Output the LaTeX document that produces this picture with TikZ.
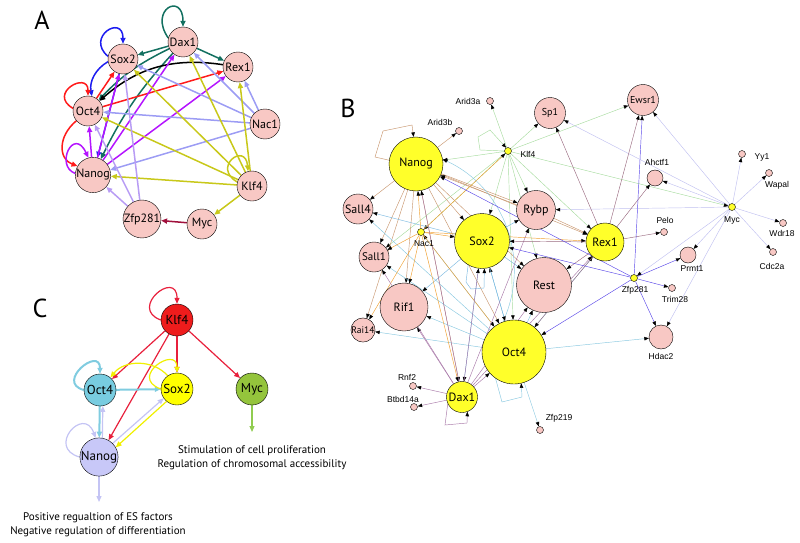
\documentclass[tikz,border=0pt]{standalone}
\usepackage{fontspec}
\setmainfont{PT Sans}
\newfontfamily\arialfont{Liberation Sans}
\usetikzlibrary{arrows.meta,backgrounds}

\definecolor{npink}{HTML}{F8C8C4}
\definecolor{byellow}{HTML}{FFFF2A}
% panel A edge colours
\definecolor{adax}{HTML}{137060}
\definecolor{asox}{HTML}{1C1CF0}
\definecolor{aoct}{HTML}{FF1A1A}
\definecolor{anan}{HTML}{B414FF}
\definecolor{anac}{HTML}{9C9CF4}
\definecolor{aklf}{HTML}{C8C81A}
\definecolor{azfp}{HTML}{B89CF4}
\definecolor{amyc}{HTML}{A0103C}
% panel B edge colours
\definecolor{bnan}{HTML}{C8966E}
\definecolor{bklf}{HTML}{A8DCA0}
\definecolor{bnac}{HTML}{F0A030}
\definecolor{boct}{HTML}{88C8E0}
\definecolor{bsox}{HTML}{7AB8E0}
\definecolor{bdax}{HTML}{A878A8}
\definecolor{brex}{HTML}{9A6A80}
\definecolor{bzfp}{HTML}{5A48E8}
\definecolor{bmyc}{HTML}{C0C0F0}
% panel C colours
\definecolor{cred}{HTML}{E8203C}
\definecolor{cklf}{HTML}{EE1C1C}
\definecolor{cblue}{HTML}{80CCE0}
\definecolor{coct}{HTML}{78CCE0}
\definecolor{cyel}{HTML}{F0F000}
\definecolor{csox}{HTML}{FFFF00}
\definecolor{clav}{HTML}{C4C4F4}
\definecolor{cnan}{HTML}{C8C8F8}
\definecolor{cgrn}{HTML}{90CC50}
\definecolor{cmyc}{HTML}{94C43C}

\tikzset{
  panel/.style={font=\fontsize{26}{26}\selectfont},
  anode/.style={circle,draw,fill=npink,minimum size=30pt,inner sep=0pt,font=\fontsize{12}{12}\selectfont},
  aedge/.style={line width=1.5pt,-{Triangle[length=6pt,width=5pt]}},
  cnode/.style={circle,draw,minimum size=32pt,inner sep=0pt,font=\fontsize{13}{13}\selectfont},
  cedge/.style={line width=1.2pt,-{Triangle[length=6pt,width=5pt]}},
  ctext/.style={align=center,font=\fontsize{11}{14}\selectfont},
  bbig/.style={circle,draw,fill=byellow,inner sep=0pt,font=\fontsize{12}{12}\selectfont},
  bpink/.style={circle,draw,fill=npink,inner sep=0pt,font=\fontsize{12}{12}\selectfont},
  bdot/.style={circle,draw,line width=0.4pt,inner sep=0pt,minimum size=7pt},
  blabel/.style={font=\arialfont\fontsize{8.5}{8.5}\selectfont,inner sep=0pt},
  bedge/.style={line width=0.45pt,-{Triangle[length=4.5pt,width=3.5pt,color=black,fill=black]}},
}

\begin{document}
\begin{tikzpicture}[x=1pt,y=1pt]
\useasboundingbox (0,0) rectangle (800,-543);

% ---------------- panel A
\node[panel] (A) at (42,-20) {A};
\node[anode] (aDax1) at (183,-42) {Dax1};
\node[anode] (aSox2) at (123,-59) {Sox2};
\node[anode] (aRex1) at (238,-67) {Rex1};
\node[anode] (aOct4) at (88,-111) {Oct4};
\node[anode] (aNac1) at (265,-124) {Nac1};
\node[anode] (aNanog) at (93,-175) {Nanog};
\node[anode] (aKlf4) at (252,-186) {Klf4};
\node[anode] (aZfp281) at (142,-219) {Zfp281};
\node[anode] (aMyc) at (202,-224) {Myc};

\begin{scope}[on background layer]
  \draw[aedge,adax] (aDax1.165) .. controls +(125:35) and +(90:35) .. (aDax1.north);
  \draw[aedge,adax] (aDax1) -- (aSox2);
  \draw[aedge,adax] (aDax1) -- (aRex1);
  \draw[aedge,adax] (aDax1) to[bend right=10] (aOct4);
  \draw[aedge,adax] (aDax1) to[bend right=8] (aNanog);
  \draw[aedge,asox] (aSox2.170) .. controls +(140:30) and +(90:30) .. (aSox2.north);
  \draw[aedge,asox] (aSox2.190) to[bend right=35] (aOct4.75);
  \draw[aedge,asox] (aSox2) -- (aNanog);
  \draw[aedge,aoct] (aOct4.170) .. controls +(150:30) and +(90:25) .. (aOct4.north);
  \draw[aedge,aoct] (aOct4) -- (aSox2);
  \draw[aedge,aoct] (aOct4) -- (aRex1);
  \draw[aedge,aoct] (aOct4.220) .. controls +(220:25) and +(160:20) .. (aNanog.150);
  \draw[aedge,black] (aRex1) to[bend right=25] (aOct4);
  \draw[aedge,anan] (aNanog.175) .. controls +(160:22) and +(115:35) .. (aNanog.105);
  \foreach \t in {aOct4,aSox2,aDax1,aRex1}
    \draw[aedge,anan] (aNanog) -- (\t);
  \foreach \t in {aSox2,aOct4,aNanog,aDax1,aRex1}
    \draw[aedge,anac] (aNac1) -- (\t);
  \draw[aedge,aklf] (aKlf4.165) .. controls +(150:30) and +(95:30) .. (aKlf4.105);
  \foreach \t in {aSox2,aDax1,aOct4,aNanog,aRex1,aMyc}
    \draw[aedge,aklf] (aKlf4) -- (\t);
  \foreach \t in {aNanog,aOct4,aSox2}
    \draw[aedge,azfp] (aZfp281) -- (\t);
  \draw[aedge,amyc] (aMyc) -- (aZfp281);
\end{scope}

% ---------------- panel C
\node[panel] (C) at (40,-308) {C};
\node[cnode,fill=cklf] (cKlf4) at (177,-320) {Klf4};
\node[cnode,fill=coct] (cOct4) at (100,-390) {Oct4};
\node[cnode,fill=csox] (cSox2) at (177,-389) {Sox2};
\node[cnode,fill=cmyc] (cMyc) at (252,-389) {Myc};
\node[cnode,fill=cnan] (cNanog) at (99,-457) {Nanog};
\coordinate (cMycOut) at (252,-432);
\coordinate (cNanogOut) at (99,-502);
\node[ctext] (cMycText) at (252,-458) {Stimulation of cell proliferation\\Regulation of chromosomal accessibility};
\node[ctext] (cNanogText) at (98,-525) {Positive regualtion of ES factors\\Negative regulation of differentiation};

\begin{scope}[on background layer]
  \draw[cedge,cred] (cKlf4.west) .. controls +(160:35) and +(90:35) .. (cKlf4.north);
  \foreach \t in {cOct4,cSox2,cMyc,cNanog}
    \draw[cedge,cred] (cKlf4) -- (\t);
  \draw[cedge,cblue,line width=2pt] (cOct4.west) .. controls +(165:30) and +(90:28) .. (cOct4.north);
  \draw[cedge,cblue,line width=2pt] (cOct4) -- (cSox2);
  \draw[cedge,cblue,line width=2pt] (cOct4) -- (cNanog);
  \draw[cedge,cyel] (cSox2.west) .. controls +(160:35) and +(90:28) .. (cSox2.north);
  \draw[cedge,cyel] (cSox2.125) to[bend right=50] (cOct4.50);
  \draw[cedge,cyel] (cSox2.230) -- (cNanog.30);
  \draw[cedge,clav] (cNanog.west) .. controls +(165:35) and +(110:35) .. (cNanog.100);
  \draw[cedge,clav] (cNanog.80) -- (cOct4.280);
  \draw[cedge,clav] (cNanog.45) -- (cSox2.215);
  \draw[cedge,cgrn] (cMyc) -- (cMycOut);
  \draw[cedge,clav] (cNanog) -- (cNanogOut);
\end{scope}

% ---------------- panel B
\node[panel] (B) at (348,-108) {B};
\node[bbig,minimum size=54pt] (bNanog) at (416,-164) {Nanog};
\node[bbig,minimum size=55pt] (bSox2) at (482,-241) {Sox2};
\node[bbig,minimum size=38pt] (bRex1) at (605,-242) {Rex1};
\node[bbig,minimum size=64pt] (bOct4) at (514,-352) {Oct4};
\node[bbig,minimum size=31pt] (bDax1) at (462,-397) {Dax1};
\node[bpink,minimum size=30pt] (bSall4) at (358,-209) {Sall4};
\node[bpink,minimum size=30pt,font=\fontsize{11}{11}\selectfont] (bSall1) at (374,-257) {Sall1};
\node[bpink,minimum size=39pt] (bRybp) at (536,-210) {Rybp};
\node[bpink,minimum size=55pt] (bRest) at (544,-285) {Rest};
\node[bpink,minimum size=48pt] (bRif1) at (404,-307) {Rif1};
\node[bpink,minimum size=24pt,font=\fontsize{9.5}{9.5}\selectfont] (bRai14) at (363,-330) {Rai14};
\node[bpink,minimum size=31pt,font=\fontsize{10}{10}\selectfont] (bSp1) at (550,-113) {Sp1};
\node[bpink,minimum size=31pt,font=\fontsize{10}{10}\selectfont] (bEwsr1) at (643,-100) {Ewsr1};
\node[bpink,minimum size=24pt] (bHdac2) at (661,-337) {};
\node[bpink,minimum size=16pt] (bPrmt1) at (688,-255) {};
\node[bpink,minimum size=16pt] (bAhctf1) at (655,-178) {};
\node[bdot,fill=byellow] (bNac1) at (421,-232) {};
\node[bdot,fill=byellow] (bKlf4) at (508,-151) {};
\node[bdot,fill=byellow] (bZfp281) at (634,-278) {};
\node[bdot,fill=byellow] (bMyc) at (732,-207) {};
\node[bdot,fill=npink] (bArid3b) at (459,-131) {};
\node[bdot,fill=npink] (bArid3a) at (490,-101) {};
\node[bdot,fill=npink] (bRnf2) at (413,-386) {};
\node[bdot,fill=npink] (bBtbd14a) at (414,-407) {};
\node[bdot,fill=npink] (bZfp219) at (540,-430) {};
\node[bdot,fill=npink] (bTrim28) at (672,-288) {};
\node[bdot,fill=npink] (bPelo) at (664,-232) {};
\node[bdot,fill=npink] (bYy1) at (742,-154) {};
\node[bdot,fill=npink] (bWapal) at (769,-173) {};
\node[bdot,fill=npink] (bWdr18) at (783,-223) {};
\node[bdot,fill=npink] (bCdc2a) at (773,-252) {};

\node[blabel] (lArid3a) at (468,-101) {Arid3a};
\node[blabel] (lArid3b) at (440,-122) {Arid3b};
\node[blabel] (lKlf4) at (528,-154) {Klf4};
\node[blabel] (lNac1) at (424,-244) {Nac1};
\node[blabel] (lAhctf1) at (657,-162) {Ahctf1};
\node[blabel] (lPelo) at (665,-220) {Pelo};
\node[blabel] (lYy1) at (762,-157) {Yy1};
\node[blabel] (lWapal) at (777,-185) {Wapal};
\node[blabel] (lMyc) at (732,-220) {Myc};
\node[blabel] (lWdr18) at (782,-233) {Wdr18};
\node[blabel] (lCdc2a) at (772,-266) {Cdc2a};
\node[blabel] (lPrmt1) at (692,-269) {Prmt1};
\node[blabel] (lZfp281) at (635,-290) {Zfp281};
\node[blabel] (lTrim28) at (675,-299) {Trim28};
\node[blabel] (lHdac2) at (661,-356) {Hdac2};
\node[blabel] (lRnf2) at (407,-377) {Rnf2};
\node[blabel] (lBtbd14a) at (403,-399) {Btbd14a};
\node[blabel] (lZfp219) at (559,-418) {Zfp219};

\begin{scope}[on background layer]
  % Myc
  \foreach \t in {bYy1,bWapal,bWdr18,bCdc2a,bEwsr1,bSp1,bAhctf1,bRybp,bPrmt1,bHdac2,bZfp281}
    \draw[bedge,bmyc] (bMyc) -- (\t);
  % Klf4
  \draw[bedge,bklf] (bKlf4.180) -- (480,-150) -- (478,-137) -- (490,-130) -- (bKlf4.120);
  \foreach \t in {bArid3a,bSp1,bEwsr1,bNanog,bSox2,bRybp,bRex1,bRest,bOct4,bMyc,bSall1,bNac1}
    \draw[bedge,bklf] (bKlf4) -- (\t);
  % Nanog
  \draw[bedge,bnan] (bNanog.172) -- (375,-157) -- (383,-131) -- (412,-125) -- (bNanog.95);
  \foreach \t in {bArid3b,bSall4,bSall1,bRif1,bRai14,bDax1,bOct4,bSox2,bRybp,bRex1,bRest}
    \draw[bedge,bnan] (bNanog) -- (\t);
  \draw[bedge,bnan] (bRybp.165) -- (bNanog.335);
  \draw[bedge,bnan] (bRybp) -- (bRex1);
  % Oct4 and Sox2
  \draw[bedge,boct] (bOct4.235) -- (502,-402) -- (522,-397) -- (bOct4.283);
  \foreach \t in {bRai14,bRif1,bSall4,bHdac2,bZfp219,bRest,bRex1,bSox2,bSall1,bNac1}
    \draw[bedge,boct] (bOct4) -- (\t);
  \draw[bedge,boct] (bOct4.110) to[bend right=45] (bNanog.10);
  \draw[bedge,bsox] (bSox2.240) -- (466,-282) -- (471,-289) -- (484,-288) -- (bSox2.275);
  \foreach \t in {bRif1,bSall4,bRybp,bOct4,bRest,bDax1}
    \draw[bedge,bsox] (bSox2) -- (\t);
  % Nac1
  \foreach \t in {bNanog,bSox2,bRex1,bRai14,bRif1,bDax1,bOct4,bKlf4,bSall1}
    \draw[bedge,bnac] (bNac1) -- (\t);
  % Dax1
  \draw[bedge,bdax] (bDax1.205) -- (445,-425) -- (467,-423) -- (bDax1.290);
  \foreach \t in {bRnf2,bBtbd14a,bRif1,bSall1,bOct4,bSox2,bRybp,bRest,bRex1,bNanog}
    \draw[bedge,bdax] (bDax1) -- (\t);
  % Rex1
  \foreach \t in {bSp1,bEwsr1,bAhctf1,bPelo,bRest,bOct4,bSox2}
    \draw[bedge,brex] (bRex1) -- (\t);
  % Zfp281
  \foreach \t in {bEwsr1,bPrmt1,bTrim28,bHdac2,bOct4,bSox2,bNanog}
    \draw[bedge,bzfp] (bZfp281) -- (\t);
\end{scope}
\end{tikzpicture}
\end{document}
